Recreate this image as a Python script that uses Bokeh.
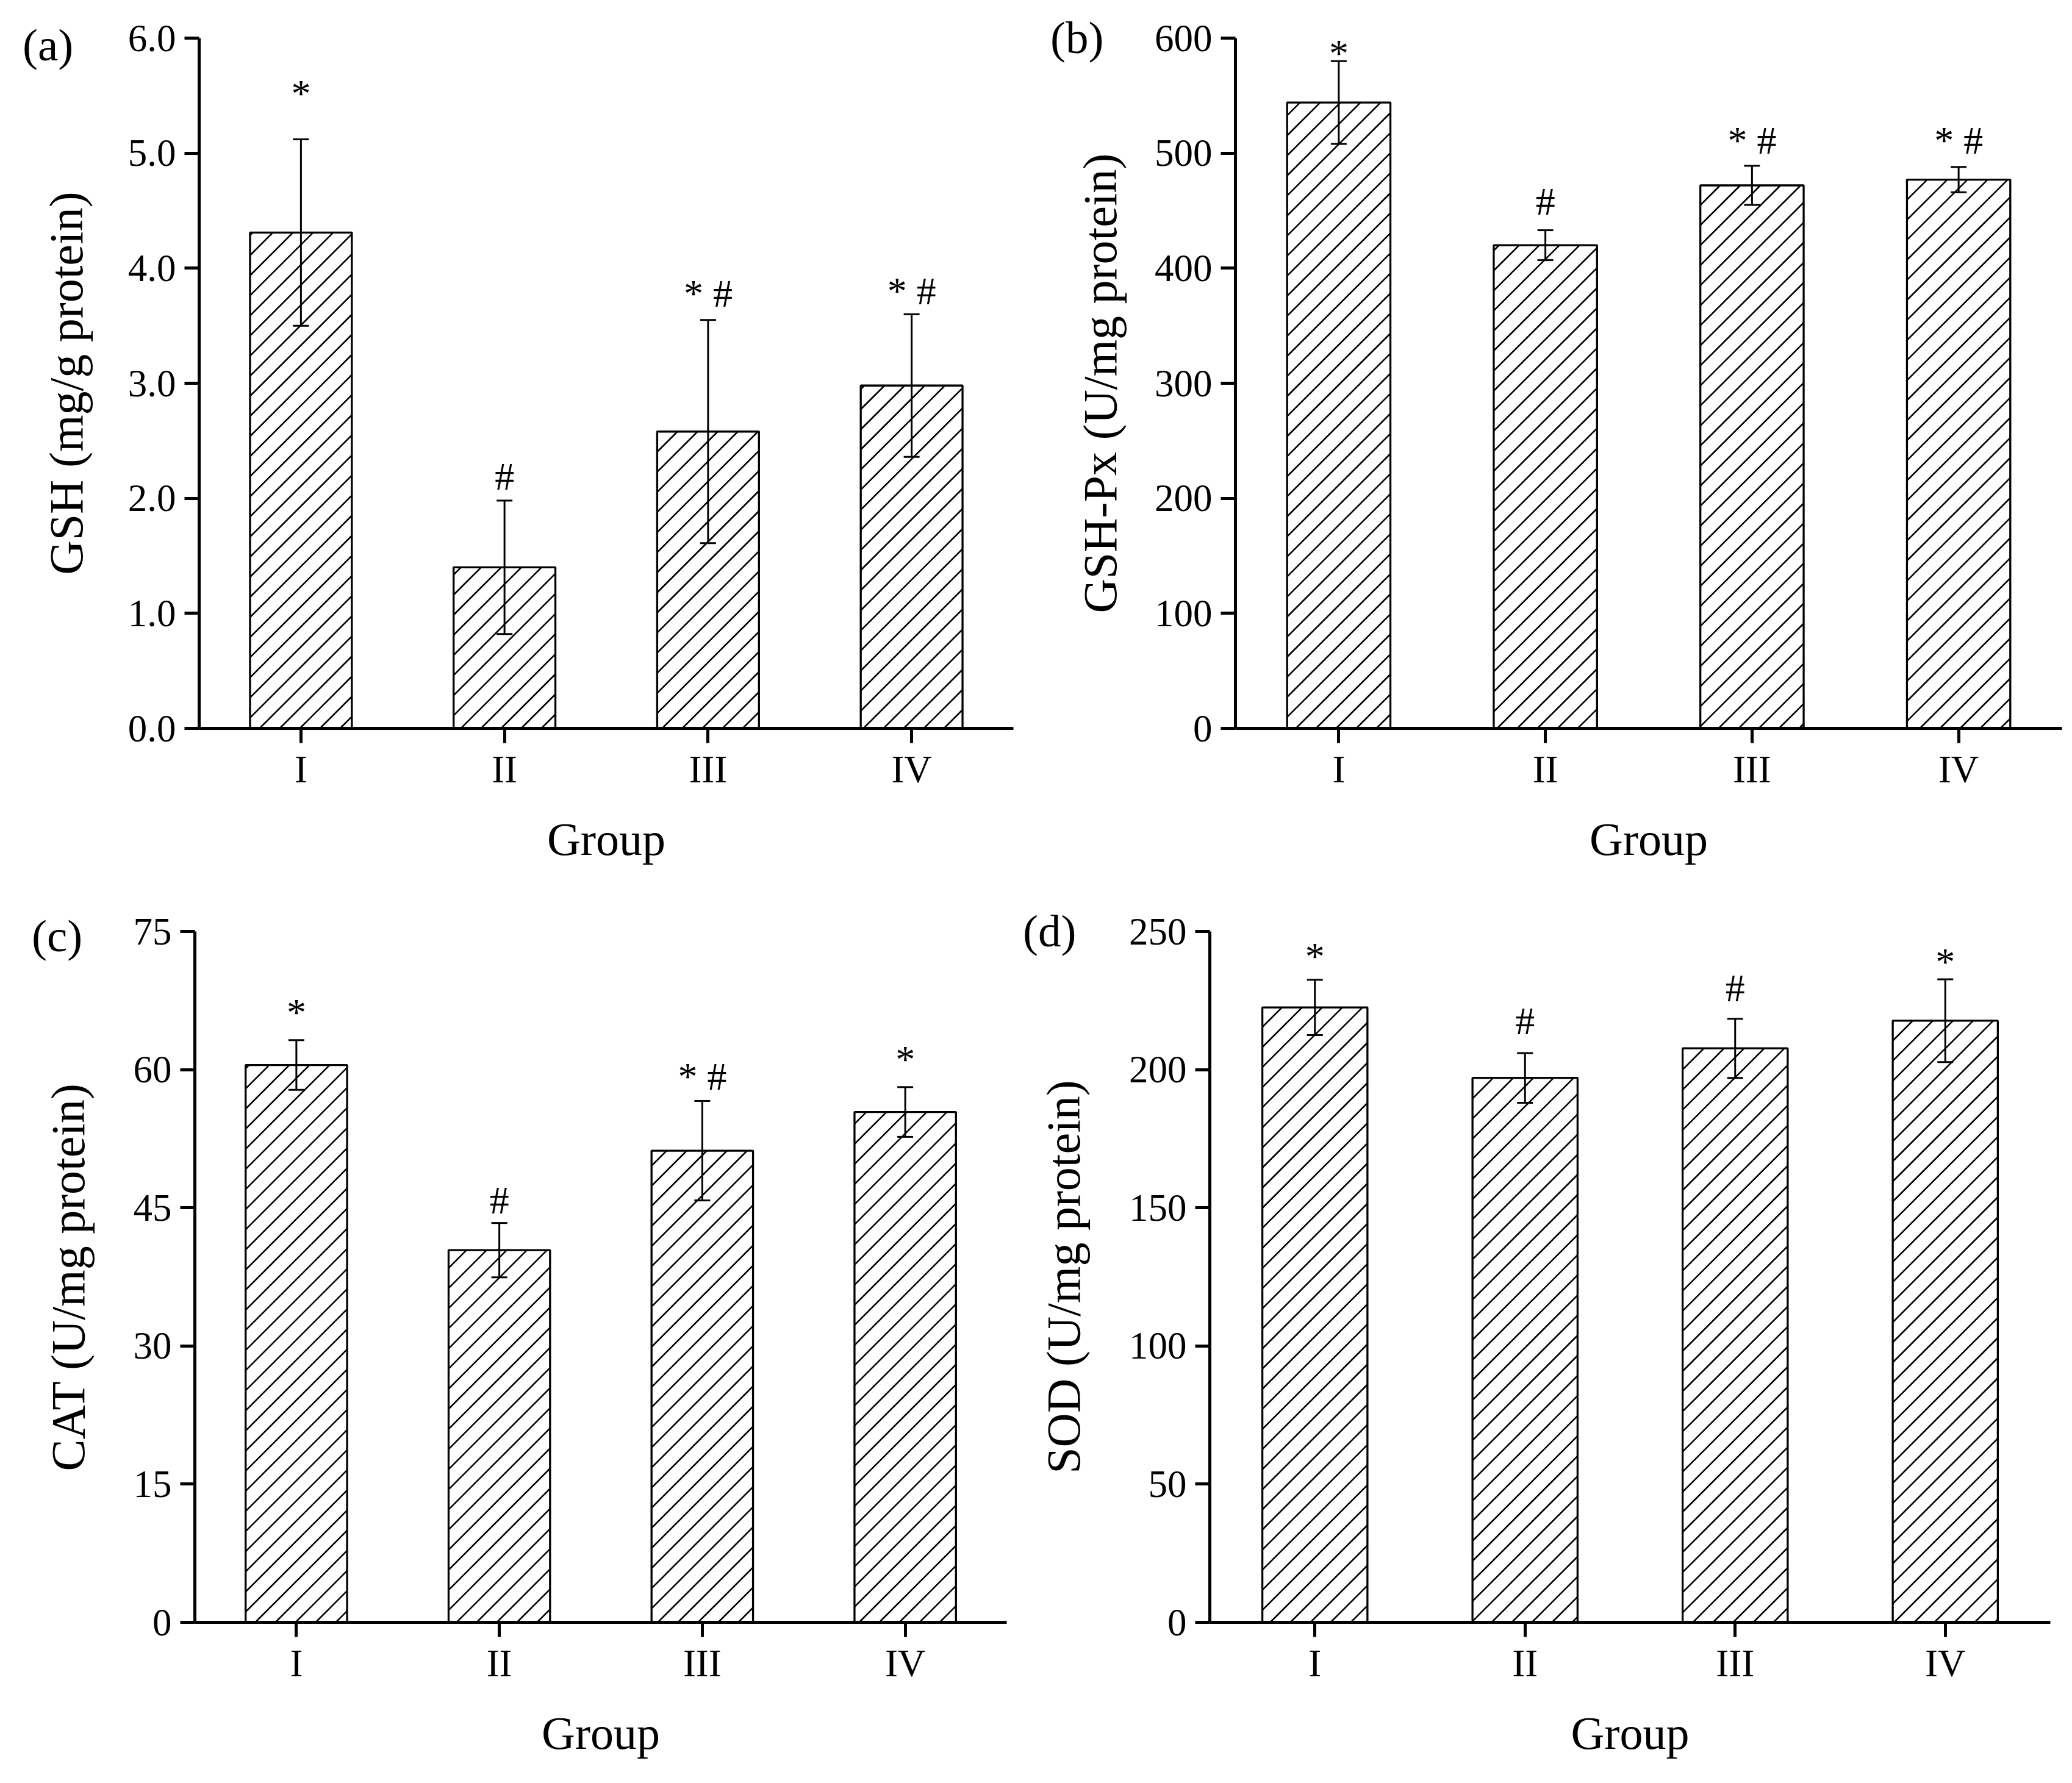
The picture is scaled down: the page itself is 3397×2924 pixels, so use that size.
from bokeh.plotting import figure
from bokeh.models import (ColumnDataSource, Range1d, FixedTicker, Div,
                          NumeralTickFormatter, Whisker, TeeHead)
from bokeh.layouts import column, row
from bokeh.core.properties import value
from bokeh.embed import file_html
from bokeh.resources import INLINE

groups = ["I", "II", "III", "IV"]

gsh_mean = [4.31, 1.40, 2.58, 2.98]
gsh_sd = [0.81, 0.58, 0.97, 0.62]
gsh_sig = ["*", "#", "* #", "* #"]
gsh_sig_y = [5.38, 2.05, 3.64, 3.66]

gshpx_mean = [544, 420, 472, 477]
gshpx_sd = [36, 13, 17, 11]
gshpx_sig = ["*", "#", "* #", "* #"]
gshpx_sig_y = [573, 444, 497, 497]

cat_mean = [60.5, 40.4, 51.2, 55.4]
cat_sd = [2.7, 2.95, 5.4, 2.7]
cat_sig = ["*", "#", "* #", "*"]
cat_sig_y = [64.5, 44.1, 57.5, 59.4]

sod_mean = [222.5, 197.0, 207.7, 217.7]
sod_sd = [10.0, 9.0, 10.7, 15.0]
sod_sig = ["*", "#", "#", "*"]
sod_sig_y = [235.3, 211.9, 223.7, 233.2]

panel_tags = ["(a)", "(b)", "(c)", "(d)"]

FONT = "Liberation Serif"
HATCH_GAP = 33  # px between hatch lines (horizontal)


def panel(mean, sd, sig, sig_y, ymax, step, fmt, ylabel,
          width, height, mbl, mbr, mbt, mbb, ylab_standoff):
    xs = list(range(1, len(groups) + 1))
    src = ColumnDataSource(dict(
        x=xs, top=mean,
        upper=[m + s for m, s in zip(mean, sd)],
        lower=[m - s for m, s in zip(mean, sd)],
        sig=sig, sig_y=sig_y))
    p = figure(x_range=Range1d(0.5, len(groups) + 0.5),
               y_range=Range1d(0, ymax), width=width, height=height,
               output_backend="svg", toolbar_location=None,
               min_border_left=mbl, min_border_right=mbr,
               min_border_top=mbt, min_border_bottom=mbb)
    p.outline_line_color = None
    p.grid.visible = False
    p.background_fill_color = "white"
    p.border_fill_color = "white"

    bw = 0.5
    p.vbar(x="x", top="top", width=bw, bottom=0, source=src,
           fill_color="white", line_color=None)

    # 45-degree hatching inside each bar (computed in screen pixels)
    fw = width - mbl - mbr
    fh = height - mbt - mbb
    kx = fw / len(groups)
    ky = fh / ymax
    hx0, hy0, hx1, hy1 = [], [], [], []
    for xc, m in zip(xs, mean):
        L = (xc - bw / 2 - 0.5) * kx
        R = (xc + bw / 2 - 0.5) * kx
        T = m * ky
        k = int((L - T) // HATCH_GAP) - 1
        while k * HATCH_GAP <= R:
            c = k * HATCH_GAP
            a = max(L, c)
            b = min(R, c + T)
            if b > a:
                hx0.append(0.5 + a / kx)
                hy0.append((a - c) / ky)
                hx1.append(0.5 + b / kx)
                hy1.append((b - c) / ky)
            k += 1
    p.segment(x0=hx0, y0=hy0, x1=hx1, y1=hy1, line_color="black",
              line_width=2.6)

    p.vbar(x="x", top="top", width=bw, bottom=0, source=src,
           fill_color=None, line_color="black", line_width=3.3)

    w = Whisker(source=src, base="x", upper="upper", lower="lower",
                level="overlay",
                line_color="black", line_width=3,
                upper_head=TeeHead(size=26, line_width=3, line_color="black"),
                lower_head=TeeHead(size=26, line_width=3, line_color="black"))
    p.add_layout(w)

    p.text(x="x", y="sig_y", text="sig", source=src,
           text_font=value(FONT), text_font_size="64px",
           text_align="center", text_baseline="alphabetic",
           y_offset=-26, text_color="black")

    ticks = [step * i for i in range(int(round(ymax / step)) + 1)]
    p.yaxis.ticker = FixedTicker(ticks=ticks)
    p.yaxis.formatter = NumeralTickFormatter(format=fmt)
    p.xaxis.ticker = FixedTicker(ticks=xs)
    p.xaxis.major_label_overrides = {x: g for x, g in zip(xs, groups)}
    for ax in (p.xaxis, p.yaxis):
        ax.axis_line_width = 5
        ax.axis_line_color = "black"
        ax.major_tick_line_width = 5
        ax.major_tick_line_color = "black"
        ax.major_tick_in = 0
        ax.major_tick_out = 24
        ax.minor_tick_line_color = None
        ax.major_label_text_font = FONT
        ax.major_label_text_font_size = "63px"
        ax.major_label_text_color = "black"
        ax.axis_label_text_font = FONT
        ax.axis_label_text_font_style = "normal"
        ax.axis_label_text_color = "black"
    p.xaxis.axis_label_text_font_size = "76px"
    p.yaxis.axis_label_text_font_size = "78px"
    p.yaxis.major_label_standoff = 14
    p.xaxis.major_label_standoff = 8
    p.yaxis.axis_label = ylabel
    p.yaxis.axis_label_standoff = ylab_standoff
    p.xaxis.axis_label = "Group"
    p.xaxis.axis_label_standoff = 34
    return p


def tag(text, left, top):
    return Div(text=text, styles={"position": "absolute",
                                  "left": f"{left}px", "top": f"{top}px",
                                  "font-family": FONT,
                                  "font-size": "75px", "color": "black"})


pa = panel(gsh_mean, gsh_sd, gsh_sig, gsh_sig_y, 6.0, 1.0, "0.0",
           "GSH (mg/g protein)", 1668, 1450, 326, 7, 61, 256, 55)
pb = panel(gshpx_mean, gshpx_sd, gshpx_sig, gshpx_sig_y, 600, 100, "0",
           "GSH-Px (U/mg protein)", 1713, 1450, 357, 1, 62, 252, 43)
pc = panel(cat_mean, cat_sd, cat_sig, cat_sig_y, 75, 15, "0",
           "CAT (U/mg protein)", 1660, 1458, 319, 10, 77, 248, 61)
pd = panel(sod_mean, sod_sd, sod_sig, sod_sig_y, 250, 50, "0",
           "SOD (U/mg protein)", 1721, 1458, 323, 20, 76, 248, 61)

tags = [tag(panel_tags[0], 32, 15), tag(panel_tags[1], 1717, 3),
        tag(panel_tags[2], 47, 1476), tag(panel_tags[3], 1672, 1468)]

layout = column(row(pa, pb), row(pc, pd), *tags)
open("out.html", "w").write(file_html(layout, INLINE))
